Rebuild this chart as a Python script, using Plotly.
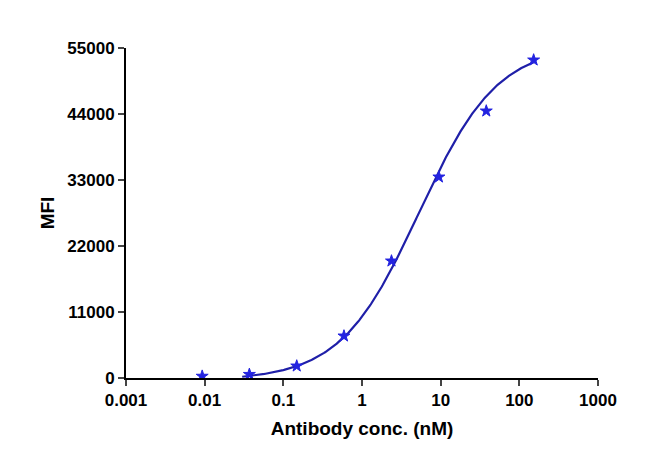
import numpy as np
import plotly.graph_objects as go

conc = [0.0093, 0.037, 0.148, 0.59, 2.37, 9.5, 38, 152]
mfi = [300, 600, 2000, 7000, 19500, 33500, 44500, 53000]
# 4PL fit parameters (bottom, top, EC50, hill)
bottom, top, ec50, hill = -400, 55500, 5.3, 0.87

xf = np.logspace(np.log10(0.03), np.log10(152), 300)
yf = bottom + (top - bottom) / (1 + (ec50 / xf) ** hill)
mask = yf >= 0

yticks = [0, 11000, 22000, 33000, 44000, 55000]

fig = go.Figure()
fig.add_trace(go.Scatter(x=xf[mask], y=yf[mask], mode="lines",
                         line=dict(color="#1f1fa8", width=2.2), hoverinfo="skip"))
fig.add_trace(go.Scatter(x=conc, y=mfi, mode="markers",
                         marker=dict(symbol="star", size=9, color="#2323e0",
                                     line=dict(color="#2323e0", width=1))))

tf = dict(family="Liberation Sans, Arial", size=17, color="black", weight="bold")
fig.update_layout(
    width=650, height=468, plot_bgcolor="white", paper_bgcolor="white",
    showlegend=False, margin=dict(l=118, r=60, t=40, b=98),
    font=dict(family="Liberation Sans, Arial", size=17, color="black"),
    xaxis=dict(type="log", range=[-3, 3], tickvals=[0.001, 0.01, 0.1, 1, 10, 100, 1000],
               ticktext=["0.001", "0.01", "0.1", "1", "10", "100", "1000"],
               showline=True, linecolor="black", linewidth=2, ticks="outside",
               ticklen=6, tickwidth=2, showgrid=False, zeroline=False, tickfont=tf,
               title=dict(text="<b>Antibody conc. (nM)</b>", font=dict(size=19), standoff=12)),
    yaxis=dict(range=[0, 55000], tickvals=yticks, ticktext=[str(v) for v in yticks],
               showline=True, linecolor="black", linewidth=2, ticks="outside",
               ticklen=6, tickwidth=2, showgrid=False, zeroline=False, tickfont=tf,
               title=dict(text="<b>MFI</b>", font=dict(size=19), standoff=8)),
)
fig.write_html("out.html")
